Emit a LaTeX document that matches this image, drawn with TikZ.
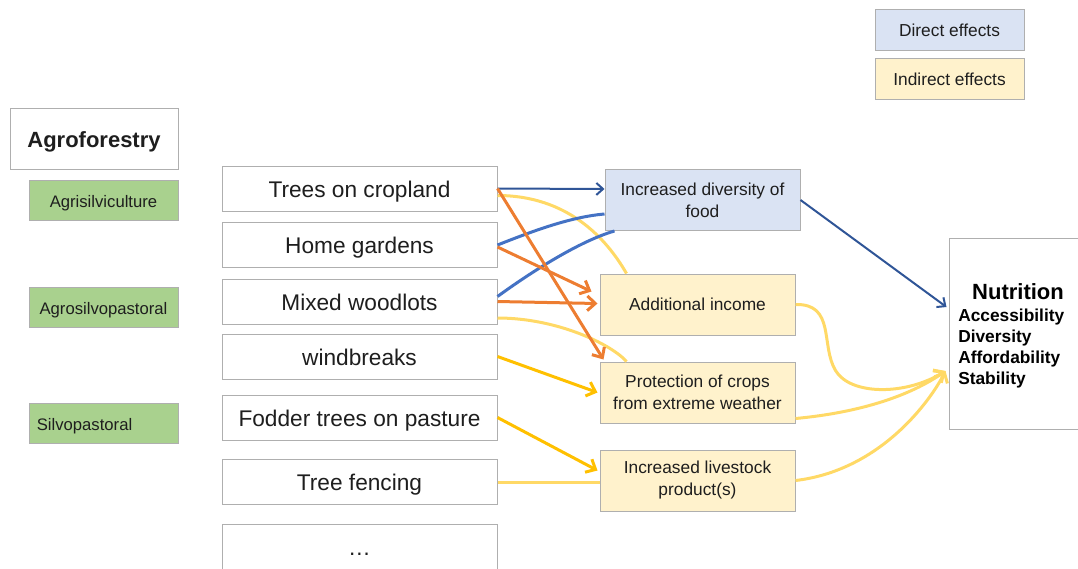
\documentclass[tikz,border=0pt]{standalone}
\usepackage{fontspec}
\setmainfont{Liberation Sans}
\usetikzlibrary{arrows.meta,calc}
\definecolor{dblue}{HTML}{2F5597}
\definecolor{mblue}{HTML}{4472C4}
\definecolor{orng}{HTML}{ED7D31}
\definecolor{gold}{HTML}{FFC000}
\definecolor{lyel}{HTML}{FFD966}
\definecolor{bord}{HTML}{AFAFAF}
\definecolor{dfill}{HTML}{DAE3F3}
\definecolor{ifill}{HTML}{FFF2CC}
\definecolor{gfill}{HTML}{A9D18E}
\definecolor{txt}{HTML}{1E1E1E}
\begin{document}
\begin{tikzpicture}[x=0.75pt,y=-0.75pt,
  box/.style={draw=bord, line width=0.75pt, inner sep=0pt, text=txt, align=center},
  legbox/.style={box, minimum width=111.75pt, minimum height=30.75pt, text height=10.5pt, text depth=0pt, font=\fontsize{13}{15.6}\selectfont},
  greenbox/.style={box, fill=gfill, minimum width=111.75pt, minimum height=30pt, text height=10.5pt, text depth=0pt, font=\fontsize{12.5}{15}\selectfont},
  leftbox/.style={box, fill=white, minimum width=206.25pt, minimum height=33.75pt, text height=13.3pt, text depth=0pt, font=\fontsize{17}{20}\selectfont},
  midbox/.style={box, minimum width=146.25pt, minimum height=45.75pt, font=\fontsize{13}{16.5}\selectfont},
  darrow/.style={draw=dblue, line width=1.5pt, -{Straight Barb[length=5pt,width=9pt]}},
  bline/.style={draw=mblue, line width=2.25pt},
  oarrow/.style={draw=orng, line width=2.25pt, -{Straight Barb[length=6pt,width=11pt]}},
  garrow/.style={draw=gold, line width=2.25pt, -{Straight Barb[length=6pt,width=11pt]}},
  yline/.style={draw=lyel, line width=2.25pt},
  yarrow/.style={draw=lyel, line width=2.25pt, -{Straight Barb[length=6pt,width=11pt]}}
]
\useasboundingbox (0,0) rectangle (1078,568);
\clip (0,0) rectangle (1078,568);

% legend
\node[legbox, fill=dfill] (leg1) at (949.5,29.5) {Direct effects};
\node[legbox, fill=ifill] (leg2) at (949.5,78.5) {Indirect effects};

% agroforestry column
\node[box, fill=white, minimum width=126pt, minimum height=45.75pt, text height=13pt, text depth=0pt, font=\fontsize{16.5}{20}\selectfont\bfseries] (agro) at (94,138.5) {Agroforestry};
\node[greenbox] (g1) at (103.5,200) {Agrisilviculture};
\node[greenbox] (g2) at (103.5,307.5) {Agrosilvopastoral};
\node[greenbox, text width=100pt, align=left] (g3) at (103.5,423) {Silvopastoral};

% practices
\node[leftbox] (tc) at (359.5,188.5) {Trees on cropland};
\node[leftbox] (hg) at (359.5,245) {Home gardens};
\node[leftbox] (mw) at (359.5,301.5) {Mixed woodlots};
\node[leftbox] (wb) at (359.5,356.5) {windbreaks};
\node[leftbox] (ft) at (359.5,417.5) {Fodder trees on pasture};
\node[leftbox] (tf) at (359.5,482) {Tree fencing};
\node[leftbox, minimum height=57pt] (db) at (359.5,562) {};
\node[text=txt, inner sep=0pt, font=\fontsize{17}{20}\selectfont] (dbt) at (359.5,554) {…};

% effects
\node[midbox, fill=dfill] (div) at (702.5,200) {Increased diversity of\\food};
\node[midbox, fill=ifill] (inc) at (697.5,304.5) {Additional income};
\node[midbox, fill=ifill] (prot) at (697.5,392.5) {Protection of crops\\from extreme weather};
\node[midbox, fill=ifill] (lv) at (697.5,480.5) {Increased livestock\\product(s)};

% nutrition
\node[box, fill=white, minimum width=113.25pt, minimum height=143.25pt] (nut) at (1024.5,333.5) {};
\node[text=black, inner sep=0pt, font=\fontsize{16.5}{20}\selectfont\bfseries] (nutt) at (1018,292) {Nutrition};
\node[text=black, inner sep=0pt, anchor=west, align=left, font=\fontsize{13}{15.75}\selectfont\bfseries] (nuti) at (958,348.5) {Accessibility\\Diversity\\Affordability\\Stability};

% light yellow lines (no arrow)
\draw[yline] ($(tc.east)+(0,7)$) .. controls ($(tc.east)+(70,7)$) and ($(inc.north west)+(7,-35)$) .. ($(inc.north west)+(27,0)$);
\draw[yline] ($(mw.east)+(0,16.5)$) .. controls ($(mw.east)+(60,16.5)$) and ($(prot.north west)+(12,-17)$) .. ($(prot.north west)+(27,0)$);
\draw[yline] ($(tf.east)$) -- ($(lv.west)+(0,1.5)$);

% blue lines
\draw[bline] (hg.east) .. controls ($(hg.east)+(33,-13)$) and ($(div.south west)+(-35,-14)$) .. ($(div.south west)+(0,-17)$);
\draw[bline] ($(mw.east)+(0,-5)$) .. controls ($(mw.east)+(33,-29)$) and ($(div.south west)+(-25,10)$) .. ($(div.south west)+(10,0)$);

% dark blue arrows
\draw[darrow] (tc.east) -- ($(div.west)+(0,-11)$);
\draw[darrow] (div.east) -- ($(nut.west)+(-2,-26.5)$);

% orange arrows
\draw[oarrow] (tc.east) -- ($(prot.north west)+(4,-2)$);
\draw[oarrow] ($(hg.east)+(0,2)$) -- ($(inc.west)+(-8,-13)$);
\draw[oarrow] (mw.east) -- ($(inc.west)+(-2,-1)$);

% gold arrows
\draw[garrow] (wb.east) -- ($(prot.west)+(-2,0)$);
\draw[garrow] (ft.east) -- ($(lv.west)+(-2,-10)$);

% yellow arrows to nutrition
\coordinate (tip) at ($(nut.west)+(-3,37.5)$);
\draw[yarrow] (inc.east) .. controls ($(inc.east)+(40,-1)$) and ($(inc.east)+(25,41)$) .. ($(inc.east)+(40,66)$)
   .. controls ($(inc.east)+(55,91)$) and ($(inc.east)+(110,91)$) .. (tip);
\draw[yarrow] ($(prot.east)+(0,26)$) .. controls ($(prot.east)+(65,20)$) and ($(prot.east)+(115,3)$) .. (tip);
\draw[yarrow] (lv.east) .. controls ($(lv.east)+(85,-10)$) and ($(lv.east)+(135,-80)$) .. (tip);
\end{tikzpicture}
\end{document}
